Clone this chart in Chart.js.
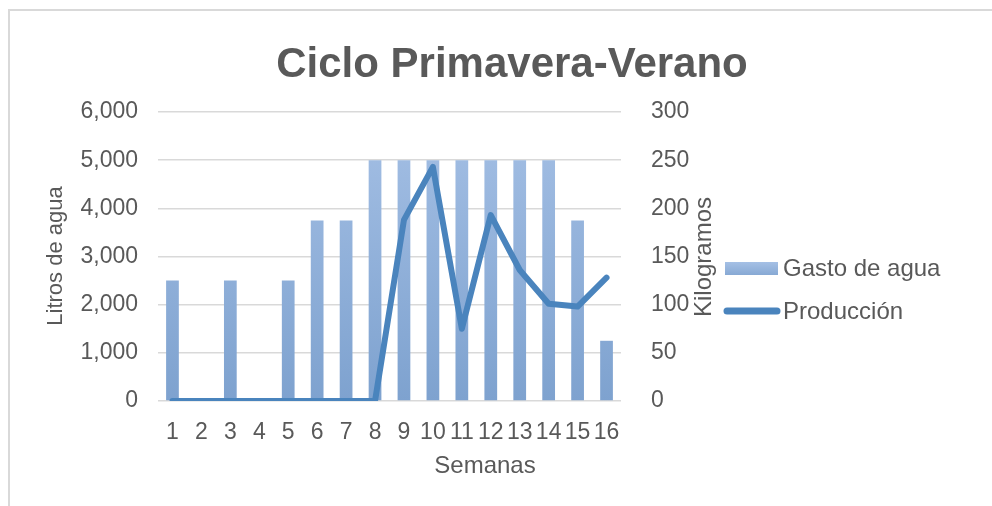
<!DOCTYPE html>
<html>
<head>
<meta charset="utf-8">
<script src="https://cdn.jsdelivr.net/npm/chart.js@4.4.0/dist/chart.umd.min.js"></script>
<style>
  html, body { margin: 0; padding: 0; background: #fff; }
  #wrap { position: relative; width: 992px; height: 506px; }
  #frame { position: absolute; left: 8px; top: 9px; right: 0; bottom: 0; border-top: 2px solid #d9d9d9; border-left: 2px solid #d9d9d9; pointer-events: none; }
</style>
</head>
<body>
<div id="wrap">
  <canvas id="chart" width="992" height="506"></canvas>
  <div id="frame"></div>
</div>
<script>
// Ciclo Primavera-Verano data
const weeks = ['1','2','3','4','5','6','7','8','9','10','11','12','13','14','15','16'];
const waterUse = [2500, 0, 2500, 0, 2500, 3750, 3750, 5000, 5000, 5000, 5000, 5000, 5000, 5000, 3750, 1250];
const production = [0, 0, 0, 0, 0, 0, 0, 0, 188, 243, 75, 193, 136, 101, 98, 128];
const waterTicks = [0, 1000, 2000, 3000, 4000, 5000, 6000];
const kgTicks = [0, 50, 100, 150, 200, 250, 300];

const textColor = '#595959';
const fontFamily = "'Liberation Sans', Arial, sans-serif";

const ctx = document.getElementById('chart').getContext('2d');

// bar gradient, light on top and a bit darker at the bottom
function barFill(context) {
  const area = context.chart.chartArea;
  if (!area) return '#94b4dd';
  const g = context.chart.ctx.createLinearGradient(0, area.top, 0, area.bottom);
  g.addColorStop(0, '#a5c0e5');
  g.addColorStop(1, '#7ea2cf');
  return g;
}

// titles and legend drawn by hand so they sit where the reference has them
const decorations = {
  id: 'decorations',
  afterDraw(chart) {
    const c = chart.ctx;
    c.save();
    c.fillStyle = textColor;
    c.textBaseline = 'middle';

    c.font = 'bold 42px ' + fontFamily;
    c.textAlign = 'center';
    c.fillText('Ciclo Primavera-Verano', 512, 65);

    c.font = '24px ' + fontFamily;
    c.fillText('Semanas', 485, 466);

    c.save();
    c.font = '22px ' + fontFamily;
    c.translate(56, 256);
    c.rotate(-Math.PI / 2);
    c.fillText('Litros de agua', 0, 0);
    c.restore();

    c.save();
    c.font = '24px ' + fontFamily;
    c.translate(704, 257);
    c.rotate(-Math.PI / 2);
    c.fillText('Kilogramos', 0, 0);
    c.restore();

    // legend
    const lg = c.createLinearGradient(0, 262, 0, 275);
    lg.addColorStop(0, '#a5c0e5');
    lg.addColorStop(1, '#87a9d4');
    c.fillStyle = lg;
    c.fillRect(725, 262, 53, 13);
    c.strokeStyle = '#4a84bd';
    c.lineWidth = 7;
    c.lineCap = 'round';
    c.beginPath();
    c.moveTo(727, 311);
    c.lineTo(777, 311);
    c.stroke();
    c.fillStyle = textColor;
    c.textAlign = 'left';
    c.font = '24px ' + fontFamily;
    c.fillText('Gasto de agua', 783, 269);
    c.fillText('Producción', 783, 312);
    c.restore();
  }
};

new Chart(ctx, {
  data: {
    labels: weeks,
    datasets: [
      {
        type: 'line',
        label: 'Producción',
        data: production,
        yAxisID: 'y1',
        borderColor: '#4a84bd',
        borderWidth: 6,
        pointRadius: 0,
        tension: 0,
        borderJoinStyle: 'round',
        borderCapStyle: 'round',
        order: 0
      },
      {
        type: 'bar',
        label: 'Gasto de agua',
        data: waterUse,
        yAxisID: 'y',
        backgroundColor: barFill,
        barPercentage: 0.44,
        categoryPercentage: 1,
        order: 1
      }
    ]
  },
  options: {
    responsive: false,
    animation: false,
    layout: { padding: { left: 10, right: 272, top: 112, bottom: 25 } },
    plugins: {
      legend: { display: false },
      title: { display: false },
      tooltip: { enabled: false }
    },
    scales: {
      x: {
        grid: { display: false },
        border: { display: false },
        ticks: { color: textColor, font: { size: 23, family: fontFamily }, padding: 10, maxRotation: 0, autoSkip: false },
        afterFit(s) { s.height = 80; }
      },
      y: {
        position: 'left',
        min: 0, max: 6000,
        afterBuildTicks(s) { s.ticks = waterTicks.map(v => ({ value: v })); },
        grid: { color: '#d9d9d9', lineWidth: 1.5, drawTicks: false },
        border: { display: false },
        ticks: {
          color: textColor, font: { size: 23, family: fontFamily }, padding: 20,
          callback: v => v.toLocaleString('en-US')
        },
        afterFit(s) { s.width = 148; }
      },
      y1: {
        position: 'right',
        min: 0, max: 300,
        afterBuildTicks(s) { s.ticks = kgTicks.map(v => ({ value: v })); },
        grid: { display: false },
        border: { display: false },
        ticks: { color: textColor, font: { size: 23, family: fontFamily }, padding: 22 },
        afterFit(s) { s.width = 99; }
      }
    }
  },
  plugins: [decorations]
});
</script>
</body>
</html>
